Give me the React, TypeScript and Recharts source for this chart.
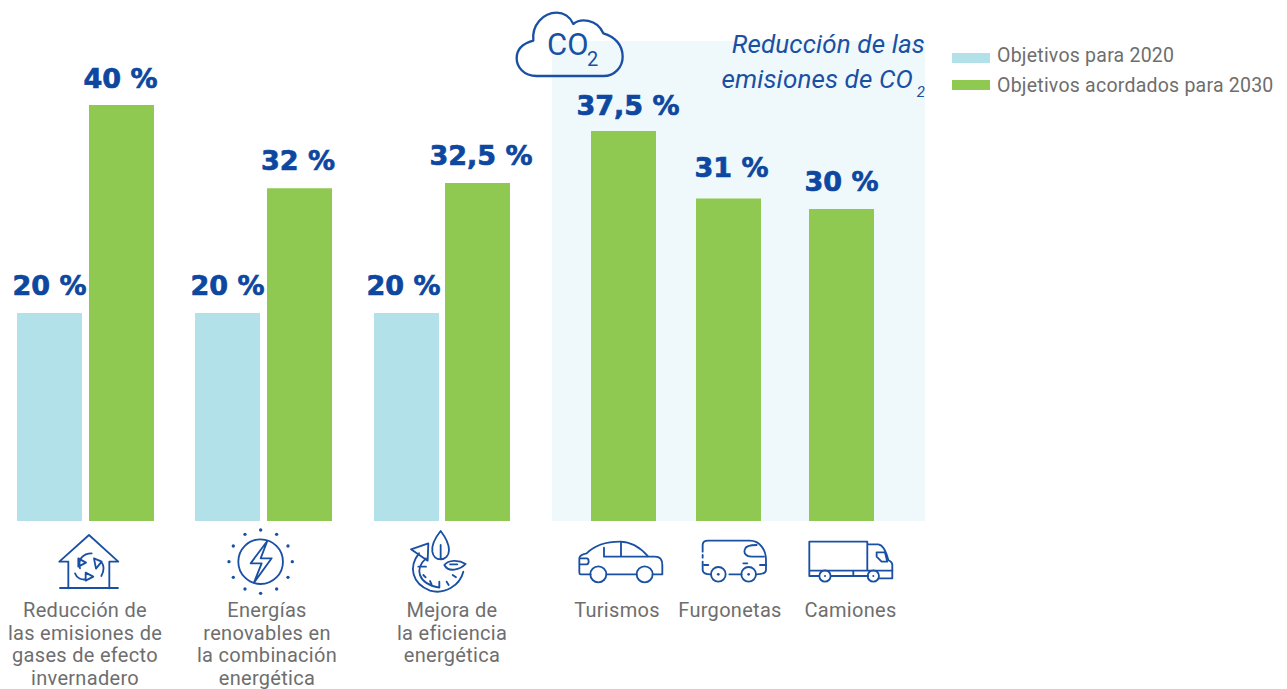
import { BarChart, Bar, XAxis, YAxis, Legend, LabelList, ReferenceArea } from 'recharts'

const goals2020 = [20, 20, 20]
const goals2030 = [40, 32, 32.5, 37.5, 31, 30]
const seriesNames = ['Objetivos para 2020', 'Objetivos acordados para 2030']
const categoryLines = [
  ['Reducción de', 'las emisiones de', 'gases de efecto', 'invernadero'],
  ['Energías', 'renovables en', 'la combinación', 'energética'],
  ['Mejora de', 'la eficiencia', 'energética'],
  ['Turismos'],
  ['Furgonetas'],
  ['Camiones'],
]

// the groups are not evenly spaced, so the x axis is a plain pixel-like scale
const slots2020 = [49.5, 227.5, 406.5]
const slots2030 = [121.5, 299.5, 477.5, 623.5, 728.5, 841.5]
const labelSlots = [85, 267, 452, 617, 730, 850.5]
// small hand nudges of the value labels, one per bar of each series
const nudges2020 = [[0, -1.5], [0, -1.5], [-3, -1.5]]
const nudges2030 = [[-1, 0], [-1.5, -1], [3.5, -1.5], [4.5, 1], [3, -5], [0, -1]]
const swatchShift = [3, 0]

const rows = [
  ...goals2020.map((v, i) => ({ slot: slots2020[i], goal2020: v, goal2030: null })),
  ...goals2030.map((v, i) => ({ slot: slots2030[i], goal2020: null, goal2030: v })),
]

const BLUE = '#b2e1e9'
const GREEN = '#8fc952'
const PANEL = '#eff9fc'
const INK = '#0e47a0'
const ICON = '#1a50a3'
const GREY = '#6e6e6e'
const BODY_FONT = 'Roboto, sans-serif'

function ValueLabel({ x, y, width, value, index, nudges }: any) {
  if (value == null) return null
  const [dx, dy] = nudges[index]
  return (
    <text
      x={x + width / 2 + dx}
      y={y - 17 + dy}
      textAnchor="middle"
      fontFamily='"DejaVu Sans", sans-serif'
      fontWeight={700}
      fontSize={27}
      fill={INK}
      stroke={INK}
      strokeWidth={0.7}
    >
      {String(value).replace('.', ',')} %
    </text>
  )
}

const iconStroke = { fill: 'none', stroke: ICON, strokeWidth: 5.5, strokeLinejoin: 'round', strokeLinecap: 'round' } as const

function HouseIcon() {
  return (
    <g transform="translate(0,520) scale(0.3333)" {...iconStroke}>
      <path d="M178 125 L267 45 L355 125 H328 V205 M205 205 V125 H178 M180 204 H354" />
      <path d="M240 145 C232 118 250 100 275 100 M235 115 L258 128 L235 140 Z" />
      <path d="M300 122 C315 135 312 155 304 168 M282 115 L305 125 L288 146 Z" />
      <path d="M225 160 C230 175 245 180 258 178 M257 158 L280 170 L257 182 Z" />
    </g>
  )
}

const sunDots = [
  [782, 30], [735, 43], [830, 43], [700, 78], [864, 78], [687, 125],
  [877, 125], [700, 172], [864, 172], [735, 207], [830, 207], [782, 220],
]

function EnergyIcon() {
  return (
    <g transform="translate(0,520) scale(0.3333)" {...iconStroke}>
      <circle cx={782} cy={125} r={67} />
      <path d="M802 63 L752 130 H785 L762 188 L815 115 H782 Z" />
      {sunDots.map(([cx, cy]) => (
        <circle key={`${cx}-${cy}`} cx={cx} cy={cy} r={5} fill={ICON} stroke="none" />
      ))}
    </g>
  )
}

function EfficiencyIcon() {
  return (
    <g transform="translate(350,520) scale(0.3333)" {...iconStroke}>
      <path d="M272 33 C250 60 245 80 247 95 C250 112 262 118 272 118 C285 118 297 108 297 90 C297 70 285 50 272 33 Z M272 75 V118" />
      <path d="M283 135 C295 120 325 118 347 132 C330 150 295 158 283 135 Z M300 133 H322" />
      <path d="M183 88 L235 70 L233 122 Z" />
      <path d="M207 100 C175 140 185 190 240 212 C285 225 330 195 340 155" />
      <path d="M228 115 C195 145 200 190 268 203 V185 M205 140 H228 M220 165 L227 172 M240 183 L245 193 M290 185 L296 195 M308 165 L318 172" />
    </g>
  )
}

function CarIcon() {
  return (
    <g transform="translate(560,525) scale(0.3333)" {...iconStroke}>
      <path d="M92 148 H62 C58 148 58 145 58 140 V100 C58 95 65 88 80 85 C100 65 135 50 180 50 C220 50 245 72 265 95 H285 C300 95 307 105 307 120 V148 H278 M140 148 H230" />
      <path d="M132 68 V95 H262 M183 52 V95 M60 100 H80 C88 100 88 118 80 118 H60" />
      <circle cx={115} cy={148} r={24} />
      <circle cx={254} cy={148} r={24} />
    </g>
  )
}

function VanIcon() {
  return (
    <g transform="translate(560,525) scale(0.3333)" {...iconStroke}>
      <path d="M428 80 V60 C428 50 435 47 445 47 H570 C600 47 618 75 618 105 V135 C618 145 610 148 590 148 M508 148 H545 M428 90 V98 M428 110 V135 C428 143 435 148 452 148" />
      <path d="M612 95 H575 C558 95 550 85 555 72 C558 62 570 60 590 60 M432 120 H445 M550 115 H562 M600 120 H618" />
      <circle cx={475} cy={148} r={22} />
      <circle cx={566} cy={148} r={22} />
      <circle cx={475} cy={148} r={4} fill={ICON} stroke="none" />
      <circle cx={566} cy={148} r={4} fill={ICON} stroke="none" />
    </g>
  )
}

function TruckIcon() {
  return (
    <g transform="translate(560,525) scale(0.3333)" {...iconStroke}>
      <path d="M778 153 H748 V50 H922 V137 H748 M812 153 H880 V137 M880 153 H925 M922 137 H997" />
      <path d="M925 58 H955 C970 60 980 85 985 105 C995 110 997 115 997 120 V160 H958" />
      <path d="M950 82 H975 L982 110 H965 L950 95 Z" />
      <circle cx={795} cy={153} r={17} />
      <circle cx={940} cy={153} r={17} />
      <circle cx={795} cy={153} r={3} fill={ICON} stroke="none" />
      <circle cx={940} cy={153} r={3} fill={ICON} stroke="none" />
    </g>
  )
}

const icons = [HouseIcon, EnergyIcon, EfficiencyIcon, CarIcon, VanIcon, TruckIcon]

function CategoryTick({ x, index }: any) {
  const Icon = icons[index]
  return (
    <g>
      <Icon />
      <text x={x} textAnchor="middle" fontFamily={BODY_FONT} fontSize={20} letterSpacing={0.3} fill={GREY}>
        {categoryLines[index].map((line, i) => (
          <tspan key={line} x={x} y={616.7 + i * 22.8}>
            {line}
          </tspan>
        ))}
      </text>
    </g>
  )
}

// shaded CO2 block: the rect comes from ReferenceArea, the cloud and heading sit on top of it
function Co2Panel({ x, y, width, height }: any) {
  const italic = { fontFamily: BODY_FONT, fontStyle: 'italic', fill: ICON } as const
  return (
    <g>
      <rect x={x} y={y} width={width} height={height} fill={PANEL} />
      <g transform="translate(500,0) scale(0.3333)" fill="none" stroke={ICON} strokeWidth={7} strokeLinejoin="round">
        <path d="M110 228 C70 228 50 200 50 175 C50 145 70 130 100 122 C95 75 130 38 170 38 C190 38 210 50 220 72 C240 55 290 55 310 100 C345 110 368 135 368 170 C368 200 345 228 310 228 Z" />
      </g>
      <text x={547} y={55} fontFamily={BODY_FONT} fontSize={31} fill={ICON}>CO</text>
      <text x={587} y={66} fontFamily={BODY_FONT} fontSize={20} fill={ICON}>2</text>
      <text x={925} y={53} textAnchor="end" fontSize={26} letterSpacing={0.13} {...italic}>Reducción de las</text>
      <text x={913} y={88} textAnchor="end" fontSize={26} letterSpacing={0.13} {...italic}>emisiones de CO</text>
      <text x={925} y={97} textAnchor="end" fontSize={15} {...italic}>2</text>
    </g>
  )
}

function LegendBox({ payload }: any) {
  return (
    <div style={{ position: 'absolute', left: 952, top: 40 }}>
      {payload.map((item: any, i: number) => (
        <div key={item.value} style={{ display: 'flex', alignItems: 'center', height: 30, whiteSpace: 'nowrap' }}>
          <span style={{ width: 38, height: 10, background: item.color, marginRight: 7, transform: `translateY(${swatchShift[i]}px)` }} />
          <span style={{ fontFamily: BODY_FONT, fontSize: 19.5, letterSpacing: 0.23, color: GREY }}>{item.value}</span>
        </div>
      ))}
    </div>
  )
}

export default function App() {
  return (
    <div style={{ position: 'absolute', left: 0, top: 0, width: 1287, height: 689 }}>
      <BarChart width={1287} height={689} data={rows} margin={{ top: 1, right: 0, bottom: 0, left: 0 }} barSize={65}>
        <XAxis
          dataKey="slot"
          type="number"
          domain={[0, 1287]}
          ticks={labelSlots}
          interval={0}
          height={168}
          axisLine={false}
          tickLine={false}
          tick={<CategoryTick />}
        />
        <YAxis hide domain={[0, 50]} width={0} />
        <ReferenceArea x1={552} x2={925} y1={0} y2={46.15} ifOverflow="visible" shape={<Co2Panel />} />
        <Bar dataKey="goal2020" name={seriesNames[0]} stackId="goals" fill={BLUE} isAnimationActive={false}>
          <LabelList dataKey="goal2020" content={<ValueLabel nudges={nudges2020} />} />
        </Bar>
        <Bar dataKey="goal2030" name={seriesNames[1]} stackId="goals" fill={GREEN} isAnimationActive={false}>
          <LabelList dataKey="goal2030" content={<ValueLabel nudges={nudges2030} />} />
        </Bar>
        <Legend content={<LegendBox />} itemSorter="dataKey" wrapperStyle={{ left: 0, top: 0, height: 0 }} />
      </BarChart>
    </div>
  )
}
